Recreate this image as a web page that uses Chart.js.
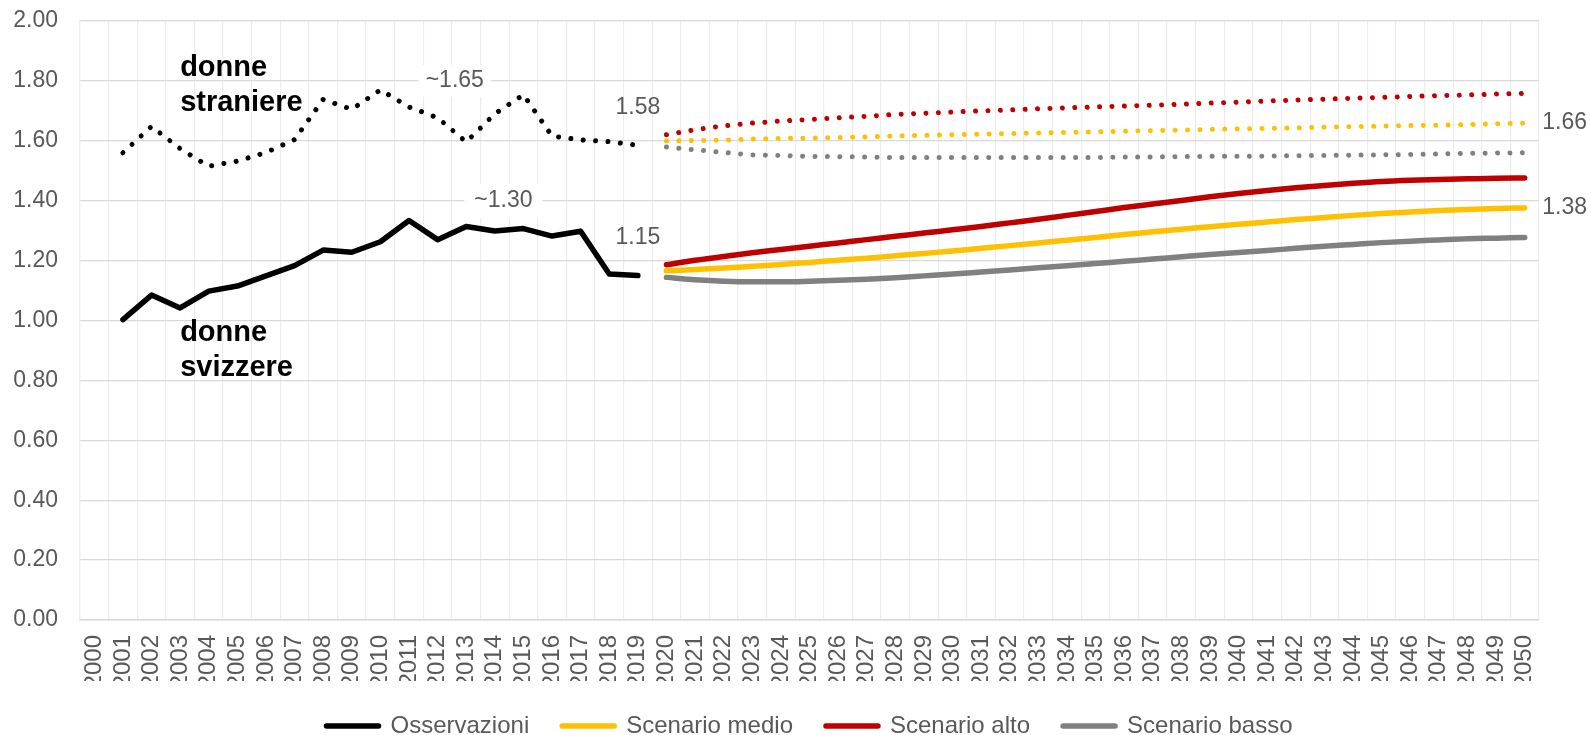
<!DOCTYPE html>
<html>
<head>
<meta charset="utf-8">
<script src="https://cdn.jsdelivr.net/npm/chart.js@4.4.1/dist/chart.umd.min.js"></script>
<style>
html,body{margin:0;padding:0;overflow:hidden;background:#ffffff}
#wrap{position:relative;width:1591px;height:748px}
</style>
</head>
<body>
<div id="wrap"><canvas id="c"></canvas></div>
<script>
// ---------- DATA ----------
const years = ['2000','2001','2002','2003','2004','2005','2006','2007','2008','2009',
  '2010','2011','2012','2013','2014','2015','2016','2017','2018','2019',
  '2020','2021','2022','2023','2024','2025','2026','2027','2028','2029',
  '2030','2031','2032','2033','2034','2035','2036','2037','2038','2039',
  '2040','2041','2042','2043','2044','2045','2046','2047','2048','2049','2050'];

const yTickValues = [0.00, 0.20, 0.40, 0.60, 0.80, 1.00, 1.20, 1.40, 1.60, 1.80, 2.00];

// Observations 2001-2019
const obsStart = '2001';
const swissObs   = [1.003, 1.085, 1.042, 1.098, 1.115, 1.149, 1.183, 1.235, 1.228, 1.263,
                    1.334, 1.270, 1.314, 1.299, 1.307, 1.282, 1.298, 1.155, 1.150];
const foreignObs = [1.560, 1.648, 1.574, 1.515, 1.532, 1.561, 1.604, 1.738, 1.705, 1.770,
                    1.713, 1.677, 1.596, 1.690, 1.754, 1.616, 1.603, 1.597, 1.585];

// Projections 2020-2050
const projStart = '2020';
const swissMedio   = [1.166, 1.170, 1.175, 1.181, 1.187, 1.194, 1.201, 1.208, 1.216, 1.224,
                      1.232, 1.241, 1.250, 1.259, 1.268, 1.277, 1.287, 1.296, 1.305, 1.313,
                      1.321, 1.329, 1.337, 1.344, 1.351, 1.357, 1.362, 1.367, 1.371, 1.374, 1.376];
const swissAlto    = [1.186, 1.201, 1.214, 1.226, 1.237, 1.248, 1.259, 1.270, 1.281, 1.292,
                      1.303, 1.314, 1.326, 1.338, 1.351, 1.364, 1.377, 1.389, 1.401, 1.413,
                      1.424, 1.434, 1.443, 1.451, 1.458, 1.464, 1.468, 1.471, 1.473, 1.475, 1.476];
const swissBasso   = [1.144, 1.136, 1.131, 1.129, 1.129, 1.131, 1.134, 1.138, 1.143, 1.149,
                      1.155, 1.162, 1.169, 1.176, 1.183, 1.190, 1.198, 1.205, 1.213, 1.220,
                      1.227, 1.234, 1.241, 1.248, 1.254, 1.260, 1.265, 1.269, 1.273, 1.275, 1.277];
const foreignMedio = [1.599, 1.601, 1.602, 1.606, 1.608, 1.609, 1.611, 1.613, 1.616, 1.618,
                      1.620, 1.622, 1.624, 1.626, 1.628, 1.630, 1.632, 1.634, 1.636, 1.638,
                      1.640, 1.641, 1.643, 1.645, 1.647, 1.649, 1.651, 1.652, 1.654, 1.657, 1.659];
const foreignAlto  = [1.620, 1.637, 1.650, 1.659, 1.666, 1.671, 1.677, 1.682, 1.688, 1.692,
                      1.696, 1.700, 1.703, 1.707, 1.710, 1.713, 1.716, 1.719, 1.722, 1.726,
                      1.729, 1.733, 1.736, 1.739, 1.742, 1.745, 1.748, 1.751, 1.753, 1.756, 1.758];
const foreignBasso = [1.579, 1.570, 1.561, 1.553, 1.551, 1.548, 1.547, 1.546, 1.544, 1.544,
                      1.544, 1.544, 1.544, 1.544, 1.544, 1.544, 1.546, 1.546, 1.547, 1.548,
                      1.548, 1.549, 1.550, 1.551, 1.552, 1.553, 1.554, 1.556, 1.558, 1.559, 1.560];

const seriesNames = ['Osservazioni', 'Scenario medio', 'Scenario alto', 'Scenario basso'];

// ---------- helpers ----------
function place(values, startYear) {
  const out = years.map(() => null);
  const s = years.indexOf(startYear);
  values.forEach((v, i) => { out[s + i] = v; });
  return out;
}

const FONT = '"Liberation Sans", Arial, Helvetica, sans-serif';
const TXT = '#595959';
const BLACK = '#000000', YELLOW = '#FFC000', RED = '#C00000', GREY = '#808080';

function solid(label, data, color) {
  return { label, data, borderColor: color, backgroundColor: color, borderWidth: 5.5,
    pointRadius: 0, pointHoverRadius: 0, borderCapStyle: 'round', borderJoinStyle: 'round',
    cubicInterpolationMode: 'monotone', spanGaps: false, fill: false };
}
function dotted(label, data, color) {
  return { label, data, borderColor: color, backgroundColor: color, borderWidth: 5,
    borderDash: [0.01, 12.4], borderCapStyle: 'round', borderJoinStyle: 'round',
    pointRadius: 0, pointHoverRadius: 0, spanGaps: false, fill: false, noLegend: true };
}

const datasets = [
  Object.assign(solid(seriesNames[0], place(swissObs, obsStart), BLACK), {cubicInterpolationMode: 'default', tension: 0}),
  solid(seriesNames[1], place(swissMedio, projStart), YELLOW),
  solid(seriesNames[2], place(swissAlto, projStart), RED),
  solid(seriesNames[3], place(swissBasso, projStart), GREY),
  dotted('straniere obs', place(foreignObs, obsStart), BLACK),
  dotted('straniere medio', place(foreignMedio, projStart), YELLOW),
  dotted('straniere alto', place(foreignAlto, projStart), RED),
  dotted('straniere basso', place(foreignBasso, projStart), GREY)
];

// text annotations: x = category index (may be fractional), y = value, dx/dy pixel nudges
const notes = [
  {text: 'donne',     x: 3, y: 1.818, align: 'left', baseline: 'alphabetic', font: 'bold 29px ' + FONT, color: '#000'},
  {text: 'straniere', x: 3, y: 1.700, align: 'left', baseline: 'alphabetic', font: 'bold 29px ' + FONT, color: '#000'},
  {text: 'donne',     x: 3, y: 0.931, align: 'left', baseline: 'alphabetic', font: 'bold 29px ' + FONT, color: '#000'},
  {text: 'svizzere',  x: 3, y: 0.814, align: 'left', baseline: 'alphabetic', font: 'bold 29px ' + FONT, color: '#000'},
  {text: '~1.65', x: 12.6, y: 1.80, box: [72, 32], align: 'center', baseline: 'middle', font: '23px ' + FONT, color: TXT},
  {text: '~1.30', x: 14.3, y: 1.40, box: [78, 34], align: 'center', baseline: 'middle', font: '23px ' + FONT, color: TXT},
  {text: '1.58', x: 19, y: 1.585, dy: -38, align: 'center', baseline: 'middle', font: '23px ' + FONT, color: TXT},
  {text: '1.15', x: 19, y: 1.150, dy: -38, align: 'center', baseline: 'middle', font: '23px ' + FONT, color: TXT},
  {text: '1.66', x: 50, y: 1.659, dx: 40, align: 'center', baseline: 'middle', font: '23px ' + FONT, color: TXT},
  {text: '1.38', x: 50, y: 1.376, dx: 40, align: 'center', baseline: 'middle', font: '23px ' + FONT, color: TXT}
];

const notesPlugin = {
  id: 'notes',
  afterDatasetsDraw(chart) {
    const {ctx} = chart;
    const xs = chart.scales.x, ys = chart.scales.y;
    ctx.save();
    notes.forEach(n => {
      const px = xs.getPixelForValue(n.x) + (n.dx || 0);
      const py = ys.getPixelForValue(n.y) + (n.dy || 0);
      if (n.box) {
        ctx.fillStyle = '#ffffff';
        ctx.fillRect(px - n.box[0] / 2, py - n.box[1] / 2, n.box[0], n.box[1]);
      }
      ctx.font = n.font;
      ctx.fillStyle = n.color;
      ctx.textAlign = n.align;
      ctx.textBaseline = n.baseline;
      ctx.fillText(n.text, px, py);
    });
    ctx.restore();
  }
};

const legendShift = {
  id: 'legendShift',
  afterLayout(chart) {
    if (chart.legend) { chart.legend.left += 40; chart.legend.right += 40; }
  }
};

new Chart(document.getElementById('c'), {
  type: 'line',
  data: { labels: years, datasets },
  options: {
    responsive: true,
    maintainAspectRatio: false,
    animation: false,
    events: [],
    layout: { padding: { top: 21, right: 52, left: 0, bottom: 0 } },
    plugins: {
      tooltip: { enabled: false },
      legend: {
        position: 'bottom',
        labels: {
          usePointStyle: true,
          pointStyleWidth: 52,
          padding: 33,
          color: TXT,
          font: { family: FONT, size: 24 },
          generateLabels(chart) {
            return chart.data.datasets
              .map((ds, i) => ({
                text: ds.label, datasetIndex: i, hidden: false,
                pointStyle: 'line', strokeStyle: ds.borderColor, fillStyle: ds.borderColor,
                lineWidth: 5.5, lineCap: 'round', lineDash: [], fontColor: TXT
              }))
              .filter(it => !chart.data.datasets[it.datasetIndex].noLegend);
          }
        }
      }
    },
    scales: {
      x: {
        type: 'category',
        offset: true,
        grid: { offset: true, color: '#ECECEC', lineWidth: 1.2, drawTicks: false },
        border: { display: true, color: '#D9D9D9', width: 1.5 },
        ticks: { autoSkip: false, maxRotation: 90, minRotation: 90, padding: 15,
                 color: TXT, font: { family: FONT, size: 24 } },
        afterFit(s) { s.height = 61; }
      },
      y: {
        min: 0, max: 2,
        afterBuildTicks(s) { s.ticks = yTickValues.map(v => ({ value: v })); },
        grid: { color: '#D9D9D9', lineWidth: 1.3, drawTicks: false },
        border: { display: true, color: '#ECECEC', width: 1.2 },
        ticks: { padding: 22, color: TXT, font: { family: FONT, size: 23 },
                 callback: v => Number(v).toFixed(2) },
        afterFit(s) { s.width = 80; s.paddingTop = 0; s.paddingBottom = 0; }
      }
    }
  },
  plugins: [notesPlugin, legendShift]
});
</script>
</body>
</html>
